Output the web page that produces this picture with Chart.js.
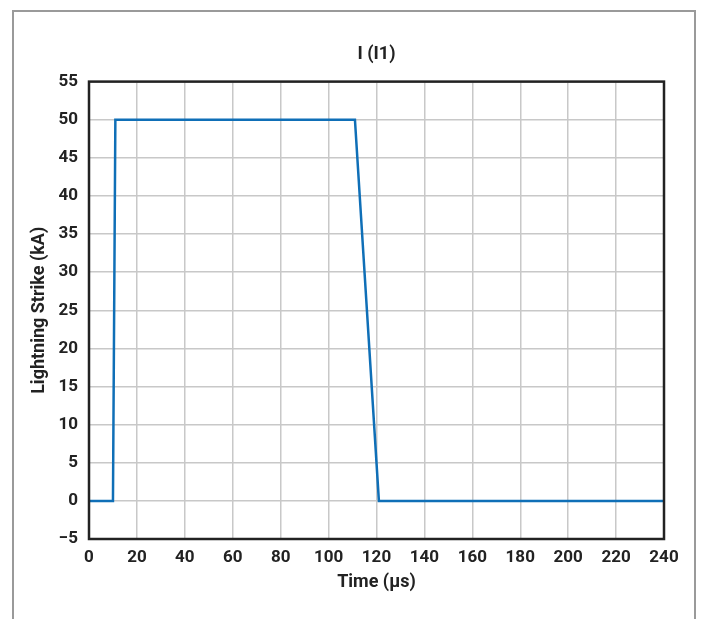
<!DOCTYPE html>
<html>
<head>
<meta charset="utf-8">
<script src="https://cdn.jsdelivr.net/npm/chart.js@4/dist/chart.umd.min.js"></script>
<style>
    html, body { margin: 0; padding: 0; background: #fff; }
    #wrap { position: relative; width: 707px; height: 619px; overflow: hidden; }
    #frame { position: absolute; left: 12px; top: 10px; width: 684px; height: 640px; border: 2px solid #9a9a9a; box-sizing: border-box; }
    #myChart { position: absolute; left: 0; top: 0; }
</style>
</head>
<body>
<div id="wrap">
    <div id="frame"></div>
    <canvas id="myChart" width="707" height="619"></canvas>
</div>
<script>
    // waveform corners (time in us, current in kA)
    var timeUs = [0, 10, 11, 111, 121, 240];
    var strikeKA = [0, 0, 50, 50, 0, 0];
    var xTicks = [0, 20, 40, 60, 80, 100, 120, 140, 160, 180, 200, 220, 240];
    var yTicks = [-5, 0, 5, 10, 15, 20, 25, 30, 35, 40, 45, 50, 55];

    var points = timeUs.map(function (t, i) {
        return { x: t, y: strikeKA[i] };
    });

    // plot frame: black box around the chart area
    var boxPlugin = {
        id: 'box',
        afterDraw: function (chart) {
            var a = chart.chartArea;
            var ctx = chart.ctx;
            ctx.save();
            ctx.strokeStyle = '#222';
            ctx.lineWidth = 2.5;
            ctx.strokeRect(a.left, a.top, a.right - a.left, a.bottom - a.top);
            ctx.restore();
        }
    };

    var tickFont = { family: 'Roboto', weight: 'bold', size: 17 };
    var titleFont = { family: 'Roboto', weight: 'bold', size: 18 };

    const ctx = document.getElementById('myChart').getContext('2d');
    const myChart = new Chart(ctx, {
        type: 'line',
        data: {
            datasets: [{
                data: points,
                borderColor: '#0f6fb7',
                borderWidth: 2.5,
                pointRadius: 0,
                tension: 0,
                fill: false
            }]
        },
        options: {
            responsive: false,
            animation: false,
            layout: { padding: { left: 0, right: 43, top: 44, bottom: 0 } },
            plugins: {
                legend: { display: false },
                tooltip: { enabled: false },
                title: {
                    display: true,
                    text: 'I (I1)',
                    fullSize: false,
                    color: '#222',
                    font: titleFont,
                    padding: { top: 0, bottom: 16 }
                }
            },
            scales: {
                x: {
                    type: 'linear',
                    min: 0,
                    max: 240,
                    afterBuildTicks: function (axis) {
                        axis.ticks = xTicks.map(function (v) { return { value: v }; });
                    },
                    afterFit: function (axis) { axis.height = 80; },
                    grid: { color: '#c8c8c8', lineWidth: 1.5, drawTicks: false },
                    border: { display: false },
                    ticks: { color: '#222', font: tickFont, padding: 9, maxRotation: 0 },
                    title: {
                        display: true,
                        text: 'Time (µs)',
                        color: '#222',
                        font: titleFont,
                        padding: { top: 0, bottom: 26 }
                    }
                },
                y: {
                    min: -5,
                    max: 55,
                    afterBuildTicks: function (axis) {
                        axis.ticks = yTicks.map(function (v) { return { value: v }; });
                    },
                    afterFit: function (axis) { axis.width = 89; },
                    grid: { color: '#c8c8c8', lineWidth: 1.5, drawTicks: false },
                    border: { display: false },
                    ticks: {
                        color: '#222',
                        font: tickFont,
                        padding: 11,
                        callback: function (v) { return v < 0 ? '\u2212' + Math.abs(v) : String(v); }
                    },
                    title: {
                        display: true,
                        text: 'Lightning Strike (kA)',
                        color: '#222',
                        font: titleFont,
                        padding: { top: 29 }
                    }
                }
            }
        },
        plugins: [boxPlugin]
    });
</script>
</body>
</html>
